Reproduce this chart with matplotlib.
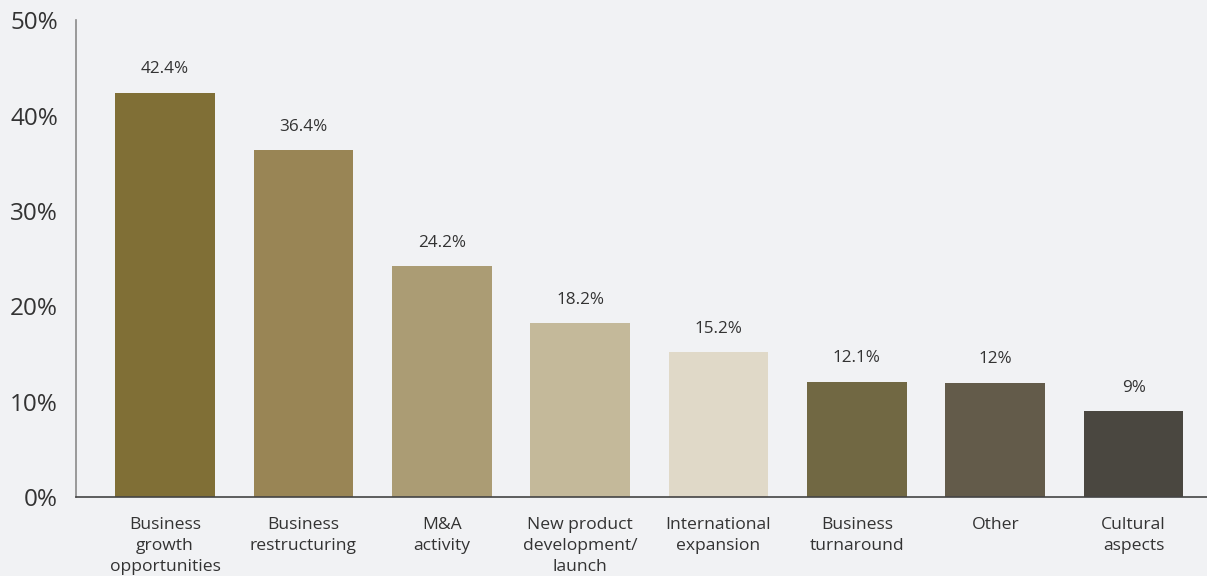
import numpy as np
import matplotlib.pyplot as plt

categories = ['Business\ngrowth\nopportunities', 'Business\nrestructuring', 'M&A\nactivity',
              'New product\ndevelopment/\nlaunch', 'International\nexpansion', 'Business\nturnaround',
              'Other', 'Cultural\naspects']
values = [42.4, 36.4, 24.2, 18.2, 15.2, 12.1, 12.0, 9.0]
value_labels = ['42.4%', '36.4%', '24.2%', '18.2%', '15.2%', '12.1%', '12%', '9%']
colors = ['#806f36', '#998555', '#ab9c74', '#c4b99a', '#e0d9c8', '#716843', '#635b4a', '#4a4740']

plt.rcParams['font.family'] = ['Open Sans', 'DejaVu Sans']
bg = '#f1f2f4'

fig = plt.figure(figsize=(12.07, 5.76), dpi=100, facecolor=bg)
ax = fig.add_axes([0.063, 0.137, 0.937, 0.828])
ax.set_facecolor(bg)

x = np.arange(len(values))
ax.bar(x, values, width=0.72, color=colors)
for xi, v, lab in zip(x, values, value_labels):
    ax.annotate(lab, (xi, v), xytext=(0, 11), textcoords='offset points',
                ha='center', va='bottom', fontsize=12.3, color='#333333')

ax.set_xlim(-0.643, 7.53)
ax.set_ylim(0, 50)
ax.set_yticks(np.arange(0, 51, 10))
ax.set_yticklabels([f'{t}%' for t in range(0, 51, 10)], fontsize=17.5, color='#333333')
ax.set_xticks(x)
ax.set_xticklabels(categories, fontsize=12.6, color='#333333', linespacing=1.45)
ax.tick_params(axis='y', length=0, pad=13)
ax.tick_params(axis='x', length=0, pad=14)

for s in ['top', 'right']:
    ax.spines[s].set_visible(False)
ax.spines['left'].set_color('#8a8a8a')
ax.spines['left'].set_linewidth(1.2)
ax.spines['bottom'].set_color('#444444')
ax.spines['bottom'].set_linewidth(1.2)

fig.savefig('out.png', dpi=100, facecolor=bg)
